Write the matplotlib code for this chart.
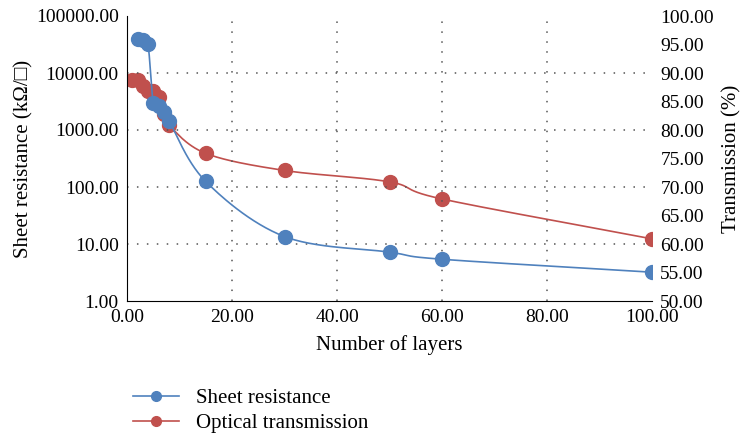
import numpy as np
import matplotlib
matplotlib.use("Agg")
import matplotlib.pyplot as plt
from matplotlib.lines import Line2D

layers_r = [2, 3, 4, 5, 6, 7, 8, 15, 30, 50, 60, 100]
resistance = [40000, 38000, 32000, 3000, 2600, 2100, 1450, 125, 13.5, 7.2, 5.4, 3.2]
layers_t = [1, 2, 3, 4, 5, 6, 7, 8, 15, 30, 50, 60, 100]
transmission = [88.8, 88.8, 87.8, 86.8, 86.8, 85.8, 82.8, 80.8, 75.9, 72.9, 70.9, 67.9, 60.9]
x_ticks = [0, 20, 40, 60, 80, 100]
left_ticks = [1, 10, 100, 1000, 10000, 100000]
right_ticks = [50, 55, 60, 65, 70, 75, 80, 85, 90, 95, 100]

blue = '#4F81BD'
red = '#C0504D'

plt.rcParams['font.family'] = ['Liberation Serif', 'DejaVu Serif']


def catmull(x, y, n=30):
    x = np.asarray(x, float); y = np.asarray(y, float)
    px = np.concatenate([[2*x[0]-x[1]], x, [2*x[-1]-x[-2]]])
    py = np.concatenate([[2*y[0]-y[1]], y, [2*y[-1]-y[-2]]])
    ox, oy = [], []
    for i in range(1, len(px)-2):
        t = np.linspace(0, 1, n)
        for arr, out in ((px, ox), (py, oy)):
            p0, p1, p2, p3 = arr[i-1], arr[i], arr[i+1], arr[i+2]
            out.extend(0.5*((2*p1) + (-p0+p2)*t + (2*p0-5*p1+4*p2-p3)*t**2 + (-p0+3*p1-3*p2+p3)*t**3))
    return np.array(ox), np.array(oy)


fig = plt.figure(figsize=(7.4, 4.38), dpi=100)
ax = fig.add_axes([127/740, 1-301/438, 525/740, 285/438])
ax2 = ax.twinx()

sx, sy = catmull(np.array(layers_r)/100, np.log10(resistance)/5*0.55)
ax.plot(sx*100, 10**(sy/0.55*5), color=blue, lw=1.2, zorder=2)
ax.plot(layers_r, resistance, 'o', color=blue, ms=10, zorder=3)

tx, ty = catmull(np.array(layers_t)/100, (np.array(transmission)-50)/50*0.55)
ax2.plot(tx*100, ty/0.55*50+50, color=red, lw=1.2, zorder=2)
ax2.plot(layers_t, transmission, 'o', color=red, ms=10, zorder=3)

ax.set_yscale('log')
ax.set_ylim(1, 100000)
ax.set_xlim(0, 100)
ax2.set_ylim(50, 100)
ax.set_yticks(left_ticks)
ax.set_yticklabels(['%.2f' % v for v in left_ticks])
ax.yaxis.set_minor_locator(matplotlib.ticker.NullLocator())
ax.set_xticks(x_ticks)
ax.set_xticklabels(['%.2f' % v for v in x_ticks])
ax2.set_yticks(right_ticks)
ax2.set_yticklabels(['%.2f' % v for v in right_ticks])

gstyle = dict(color='#555555', linestyle=(0, (1, 5.5)), lw=1.1, zorder=1)
for v in left_ticks[1:-1]:
    ax.axhline(v, **gstyle)
for v in x_ticks[1:-1]:
    ax.axvline(v, **gstyle)

for a in (ax, ax2):
    a.spines['top'].set_visible(False)
    a.spines['right'].set_visible(False)
ax2.spines['left'].set_visible(False)
ax2.spines['bottom'].set_visible(False)
ax.tick_params(labelsize=14, length=0, pad=6)
ax2.tick_params(labelsize=14, length=0, pad=6)
ax.set_zorder(ax2.get_zorder()+1)
ax.patch.set_visible(False)

ax.set_xlabel('Number of layers', fontsize=15, labelpad=6)
ax.set_ylabel('Sheet resistance (kΩ/□)', fontsize=15, family=['Liberation Serif', 'DejaVu Sans'], labelpad=2)
ax2.set_ylabel('Transmission (%)', fontsize=15, labelpad=6)

handles = [Line2D([], [], color=blue, marker='o', ms=7, lw=1.2),
           Line2D([], [], color=red, marker='o', ms=7, lw=1.2)]
fig.legend(handles, ['Sheet resistance', 'Optical transmission'], loc='upper left',
           bbox_to_anchor=(0.155, 0.155), frameon=False, fontsize=15, handlelength=2.2,
           handletextpad=0.8, labelspacing=0.25)

fig.savefig('out.png', dpi=100)
